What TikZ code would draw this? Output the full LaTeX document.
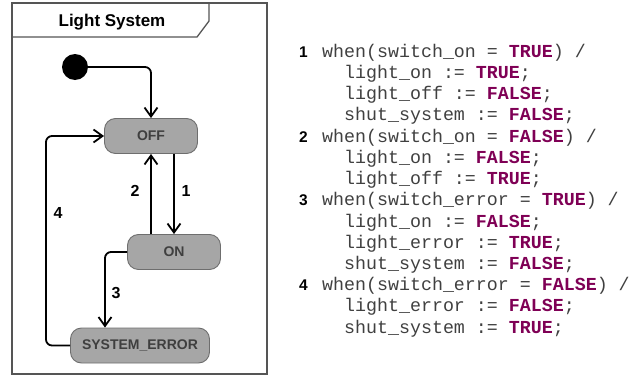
\documentclass[tikz,border=0pt]{standalone}
\usepackage{fontspec}
\usepackage{array}
\setmainfont{Liberation Sans}
\setsansfont{Liberation Sans}
\setmonofont{Liberation Mono}
\usetikzlibrary{positioning,arrows.meta}

\definecolor{kwpurple}{HTML}{7F0055}
\definecolor{statefill}{HTML}{A6A6A6}
\definecolor{stateline}{HTML}{6E6E6E}
\definecolor{statetext}{HTML}{3F3F3F}
\definecolor{framegray}{HTML}{555555}

\newcommand{\kw}[1]{\textcolor{kwpurple}{\textbf{#1}}}
\newcommand{\ind}{\hphantom{wh}}
\newcommand{\rulenum}{\fontsize{15.5}{21}\selectfont\sffamily\bfseries\color{black}}

\begin{document}
\begin{tikzpicture}[x=1pt,y=1pt,
    state/.style={draw=stateline, fill=statefill, rounded corners=11pt, minimum height=35pt,
        text=statetext, font=\fontsize{14}{16}\selectfont\bfseries, line width=0.9pt},
    trans/.style={line width=1.8pt, rounded corners=6pt, -{Straight Barb[length=9pt,width=13pt]}},
    tlabel/.style={font=\fontsize{16}{18}\selectfont\bfseries}]
    \useasboundingbox (0,0) rectangle (643,376);

    % Frame
    \draw[framegray, line width=1.3pt] (12,2) rectangle (267,373);
    \draw[framegray, line width=1.3pt] (12,339) -- (197,339) -- (209,355) -- (209,373);
    \node[font=\fontsize{17}{20}\selectfont\bfseries] (title) at (112,354) {Light System};

    % States
    \node[circle, fill=black, minimum size=26pt, inner sep=0pt] (init) at (75,309) {};
    \node[state, minimum width=93pt] (off) at (151,240) {OFF};
    \node[state, minimum width=93pt] (on) at (174,124) {ON};
    \node[state, minimum width=139pt] (err) at (140,30.5) {SYSTEM\_ERROR};
    \coordinate (bend3) at (105,0);
    \coordinate (bend4) at (46,0);

    % Transitions
    \draw[trans] (init) -| (off);
    \draw[trans] (off.south -| on.north) -- (on.north);
    \draw[trans] (on.north -| off.south) -- (off.south);
    \draw[trans] (on.west) -| (bend3 |- err.north);
    \draw[trans] (err.west) -| (bend4 |- off.west) -- (off.west);

    % Transition numbers
    \node[tlabel] (l1) at (186,185) {1};
    \node[tlabel] (l2) at (135,185) {2};
    \node[tlabel] (l3) at (116,83) {3};
    \node[tlabel] (l4) at (58,163) {4};

    % Transition rules
    \node[anchor=base west, inner sep=0pt, text=black!75,
        font=\fontsize{18.3}{21.25}\selectfont] (rules) at (299,319) {%
        \begin{tabular}[t]{@{}>{\rulenum}l@{\hspace{14.4pt}}>{\ttfamily}l@{}}
        1 & when(switch\_on = \kw{TRUE}) / \\
          & \ind light\_on := \kw{TRUE}; \\
          & \ind light\_off := \kw{FALSE}; \\
          & \ind shut\_system := \kw{FALSE}; \\
        2 & when(switch\_on = \kw{FALSE}) / \\
          & \ind light\_on := \kw{FALSE}; \\
          & \ind light\_off := \kw{TRUE}; \\
        3 & when(switch\_error = \kw{TRUE}) / \\
          & \ind light\_on := \kw{FALSE}; \\
          & \ind light\_error := \kw{TRUE}; \\
          & \ind shut\_system := \kw{FALSE}; \\
        4 & when(switch\_error = \kw{FALSE}) / \\
          & \ind light\_error := \kw{FALSE}; \\
          & \ind shut\_system := \kw{TRUE};
        \end{tabular}};
\end{tikzpicture}
\end{document}
